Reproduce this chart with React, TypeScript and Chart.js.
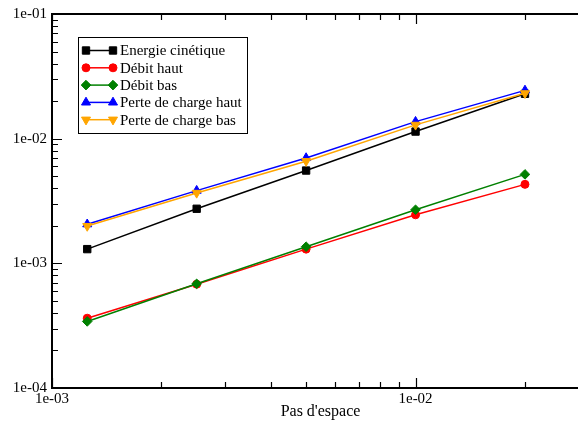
import React, { useEffect, useRef } from "react";
import { Chart, registerables } from "chart.js";

Chart.register(...registerables);

// ---- Data ----
const stepSizes = [0.00125, 0.0025, 0.005, 0.01, 0.02];
const energieCinetique = [1.3e-3, 2.74e-3, 5.55e-3, 1.14e-2, 2.29e-2];
const debitHaut = [3.63e-4, 6.8e-4, 1.3e-3, 2.45e-3, 4.3e-3];
const debitBas = [3.42e-4, 6.85e-4, 1.36e-3, 2.69e-3, 5.17e-3];
const perteChargeHaut = [2.06e-3, 3.83e-3, 7.0e-3, 1.37e-2, 2.44e-2];
const perteChargeBas = [1.99e-3, 3.67e-3, 6.6e-3, 1.29e-2, 2.31e-2];

const seriesLabels = [
  "Energie cinétique",
  "Débit haut",
  "Débit bas",
  "Perte de charge haut",
  "Perte de charge bas",
];
const xTitle = "Pas d'espace";
const xRange = [1e-3, 3e-2];
const yRange = [1e-4, 1e-1];

const FONT = "'Liberation Serif', 'Times New Roman', serif";

type Style = { color: string; shape: string; radius: number; rotation: number };
const styles: Style[] = [
  { color: "#000000", shape: "rect", radius: 5.2, rotation: 0 },
  { color: "#ff0000", shape: "circle", radius: 4, rotation: 0 },
  { color: "#008000", shape: "rectRot", radius: 4.8, rotation: 0 },
  { color: "#0000ff", shape: "triangle", radius: 5.2, rotation: 0 },
  { color: "#ffa500", shape: "triangle", radius: 5.2, rotation: 180 },
];

const seriesValues = [energieCinetique, debitHaut, debitBas, perteChargeHaut, perteChargeBas];

function isPow10(v: number) {
  const l = Math.log10(v);
  return Math.abs(l - Math.round(l)) < 1e-6;
}

function fmtPow10(v: number) {
  const e = Math.round(Math.log10(v));
  const s = e < 0 ? "-" : "+";
  return `1e${s}${String(Math.abs(e)).padStart(2, "0")}`;
}

function logTicks(min: number, max: number) {
  const out: { value: number; major: boolean }[] = [];
  const e0 = Math.floor(Math.log10(min) + 1e-9);
  const e1 = Math.ceil(Math.log10(max) - 1e-9);
  for (let e = e0; e <= e1; e++) {
    for (let m = 1; m <= 9; m++) {
      const v = parseFloat((m * Math.pow(10, e)).toPrecision(12));
      if (v >= min * (1 - 1e-9) && v <= max * (1 + 1e-9)) out.push({ value: v, major: m === 1 });
    }
  }
  return out;
}

function drawMarker(ctx: CanvasRenderingContext2D, st: Style, x: number, y: number) {
  ctx.save();
  ctx.fillStyle = st.color;
  ctx.strokeStyle = st.color;
  ctx.lineWidth = 1;
  ctx.beginPath();
  const r = st.radius;
  if (st.shape === "rect") {
    const s = Math.SQRT1_2 * r;
    ctx.rect(x - s, y - s, 2 * s, 2 * s);
  } else if (st.shape === "circle") {
    ctx.arc(x, y, r, 0, Math.PI * 2);
  } else if (st.shape === "rectRot") {
    ctx.moveTo(x - r, y);
    ctx.lineTo(x, y - r);
    ctx.lineTo(x + r, y);
    ctx.lineTo(x, y + r);
    ctx.closePath();
  } else if (st.shape === "triangle") {
    const dir = st.rotation === 180 ? -1 : 1;
    const a = (Math.PI * 2) / 3;
    for (let i = 0; i < 3; i++) {
      const ang = -Math.PI / 2 + i * a;
      const px = x + Math.cos(ang) * r;
      const py = y + dir * Math.sin(ang) * r;
      if (i === 0) ctx.moveTo(px, py);
      else ctx.lineTo(px, py);
    }
    ctx.closePath();
  }
  ctx.fill();
  ctx.stroke();
  ctx.restore();
}

const framePlugin = {
  id: "frame",
  afterDatasetsDraw(chart: any) {
    const { ctx, chartArea: a, scales } = chart;
    ctx.save();
    ctx.strokeStyle = "#000";
    ctx.lineWidth = 1.2;
    ctx.beginPath();
    for (const t of scales.x.ticks) {
      const px = Math.round(scales.x.getPixelForValue(t.value)) + 0.5;
      const len = isPow10(t.value) ? 10 : 6;
      ctx.moveTo(px, a.bottom);
      ctx.lineTo(px, a.bottom - len);
      ctx.moveTo(px, a.top);
      ctx.lineTo(px, a.top + len);
    }
    for (const t of scales.y.ticks) {
      const py = Math.round(scales.y.getPixelForValue(t.value)) + 0.5;
      const len = isPow10(t.value) ? 10 : 6;
      ctx.moveTo(a.left, py);
      ctx.lineTo(a.left + len, py);
      ctx.moveTo(a.right, py);
      ctx.lineTo(a.right - len, py);
    }
    ctx.stroke();
    ctx.lineWidth = 2;
    ctx.strokeRect(a.left, a.top, a.right - a.left, a.bottom - a.top);
    ctx.restore();
  },
};

const legendPlugin = {
  id: "boxLegend",
  afterDraw(chart: any) {
    const ctx: CanvasRenderingContext2D = chart.ctx;
    const left = 78, top = 37, right = 247, bottom = 133;
    ctx.save();
    ctx.fillStyle = "#fff";
    ctx.fillRect(left, top, right - left, bottom - top);
    ctx.strokeStyle = "#000";
    ctx.lineWidth = 1;
    ctx.strokeRect(left + 0.5, top + 0.5, right - left, bottom - top);
    ctx.font = `15px ${FONT}`;
    ctx.textBaseline = "middle";
    ctx.textAlign = "left";
    const rowY0 = 50.5, rowStep = 17.3;
    chart.data.datasets.forEach((ds: any, i: number) => {
      const st = styles[i];
      const y = rowY0 + i * rowStep;
      ctx.strokeStyle = st.color;
      ctx.lineWidth = 1.5;
      ctx.beginPath();
      ctx.moveTo(86, y);
      ctx.lineTo(113, y);
      ctx.stroke();
      drawMarker(ctx, st, 86, y);
      drawMarker(ctx, st, 113, y);
      ctx.fillStyle = "#000";
      ctx.fillText(ds.label, 120, y + 1);
    });
    ctx.restore();
  },
};

export default function App() {
  const ref = useRef<HTMLCanvasElement | null>(null);
  useEffect(() => {
    if (!ref.current) return;
    const datasets = seriesLabels.map((label, i) => ({
      label,
      data: stepSizes.map((x, j) => ({ x, y: seriesValues[i][j] })),
      borderColor: styles[i].color,
      backgroundColor: styles[i].color,
      borderWidth: 1.5,
      pointStyle: styles[i].shape,
      pointRadius: styles[i].radius,
      pointRotation: styles[i].rotation,
      pointBorderWidth: 1,
      pointBackgroundColor: styles[i].color,
      pointBorderColor: styles[i].color,
      fill: false,
      tension: 0,
      order: seriesLabels.length - i,
    }));
    const chart = new Chart(ref.current, {
      type: "line",
      data: { datasets },
      plugins: [framePlugin, legendPlugin],
      options: {
        animation: false,
        responsive: false,
        maintainAspectRatio: false,
        layout: { padding: { top: 12, right: 11, left: 0, bottom: 0 } },
        plugins: { legend: { display: false }, tooltip: { enabled: false } },
        scales: {
          x: {
            type: "logarithmic",
            min: xRange[0],
            max: xRange[1],
            afterBuildTicks: (s: any) => {
              s.ticks = logTicks(xRange[0], xRange[1]);
            },
            afterFit: (s: any) => {
              s.height = 37;
            },
            grid: { display: false, drawTicks: false },
            border: { display: false },
            ticks: {
              autoSkip: false,
              maxRotation: 0,
              padding: 2,
              color: "#000",
              font: { family: FONT, size: 15 },
              callback: (v: any) => (isPow10(Number(v)) ? fmtPow10(Number(v)) : ""),
            },
            title: {
              display: true,
              text: xTitle,
              color: "#000",
              font: { family: FONT, size: 16 },
              padding: { top: 0, bottom: 4 },
            },
          },
          y: {
            type: "logarithmic",
            min: yRange[0],
            max: yRange[1],
            afterBuildTicks: (s: any) => {
              s.ticks = logTicks(yRange[0], yRange[1]);
            },
            afterFit: (s: any) => {
              s.width = 52;
            },
            grid: { display: false, drawTicks: false },
            border: { display: false },
            ticks: {
              autoSkip: false,
              padding: 5,
              color: "#000",
              font: { family: FONT, size: 15 },
              callback: (v: any) => (isPow10(Number(v)) ? fmtPow10(Number(v)) : ""),
            },
          },
        },
      } as any,
    });
    return () => chart.destroy();
  }, []);
  return (
    <div
      style={{
        position: "fixed",
        left: 0,
        top: 0,
        width: 578,
        height: 425,
        overflow: "hidden",
        background: "#fff",
      }}
    >
      <canvas ref={ref} width={600} height={425} style={{ display: "block", width: 600, height: 425 }} />
    </div>
  );
}
